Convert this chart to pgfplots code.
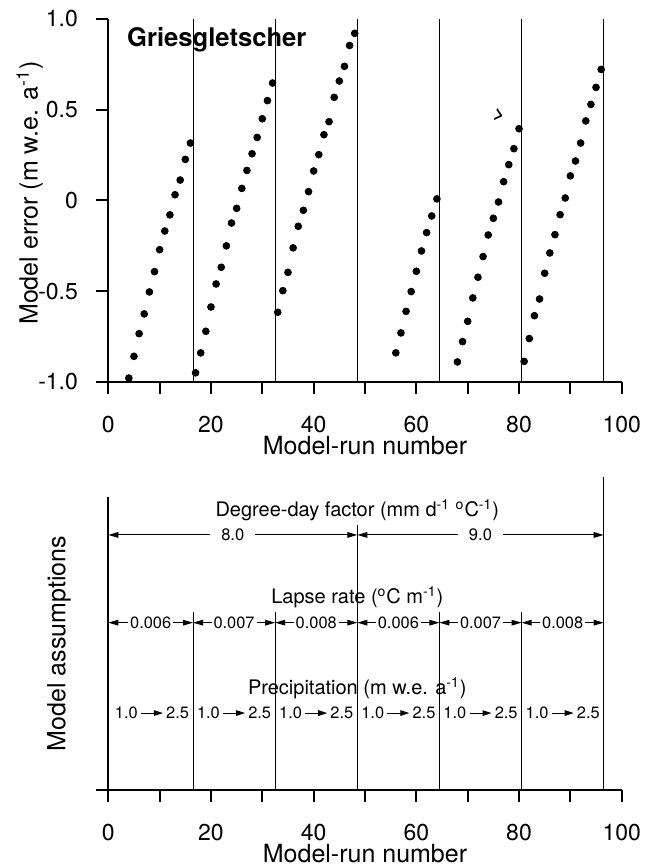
\documentclass[border=0pt]{standalone}
\usepackage{fontspec}
\setmainfont{TeX Gyre Heros}
\usepackage{pgfplots}
\pgfplotsset{compat=1.18}
\usetikzlibrary{arrows.meta}

\newcommand{\parrow}{\raisebox{0.32ex}{\tikz\draw[line width=0.5pt,-{Triangle[length=4.5pt,width=2.8pt]}] (0,0)--(11pt,0);}}

\pgfplotsset{
  common/.style={
    scale only axis, width=256.7pt, xmin=0, xmax=100,
    axis x line*=bottom,
    xtick={0,20,...,100}, minor xtick={10,30,...,90},
    tick align=outside, major tick length=6pt, minor tick length=6pt,
    tick style={line width=1pt, black},
    axis line style={line width=1pt},
    ticklabel style={font=\fontsize{11.5}{13}\selectfont},
    xticklabel style={yshift=-7.5pt},
    yticklabel style={anchor=east, inner sep=0pt, xshift=-9pt},
    /pgf/number format/assume math mode=true,
    label style={font=\fontsize{12.5}{14}\selectfont},
    xlabel={Model-run number},
    xlabel style={at={(axis description cs:0.5,0)}, anchor=center, yshift=-32pt},
    clip=false,
  },
  vline/.style={black, line width=0.5pt, no marks},
  dots/.style={only marks, mark=*, mark size=1.7pt, black},
}
\tikzset{
  dim/.style={line width=0.5pt, {Triangle[length=5pt,width=2.8pt]}-{Triangle[length=5pt,width=2.8pt]}},
  wlab/.style={midway, fill=white, inner xsep=5.5pt, inner ysep=1pt, font=\fontsize{8.3}{9}\selectfont},
  llab/.style={midway, fill=white, inner xsep=1pt, inner ysep=1pt, font=\fontsize{8.2}{9}\selectfont},
  plab/.style={font=\fontsize{8.2}{9}\selectfont, inner sep=0pt},
  ttl/.style={font=\fontsize{10}{12}\selectfont},
}

\begin{document}
\begin{tikzpicture}
\useasboundingbox (0,0) rectangle (327.5pt,-433.5pt);

% ---------------- top panel ----------------
\begin{axis}[common,
  at={(54.15pt,-190.85pt)}, anchor=south west,
  height=181.35pt, ymin=-1, ymax=1,
  axis y line*=left,
  ytick={-1,-0.5,0,0.5,1}, yticklabels={-1.0,-0.5,0,0.5,1.0},
  ylabel={Model error (m w.e. a\textsuperscript{-1})},
  ylabel style={at={(axis description cs:-0.153,0.52)}, anchor=center},
]
\draw[line width=1pt] (axis cs:-2.3,-1) -- (axis cs:0,-1);
\addplot[vline] coordinates {(16.5,-1) (16.5,1)};
\addplot[vline] coordinates {(32.5,-1) (32.5,1)};
\addplot[vline] coordinates {(48.5,-1) (48.5,1)};
\addplot[vline] coordinates {(64.5,-1) (64.5,1)};
\addplot[vline] coordinates {(80.5,-1) (80.5,1)};
\addplot[vline] coordinates {(96.5,-1) (96.5,1)};

\addplot[dots] coordinates {
(4,-0.98) (5,-0.86) (6,-0.735) (7,-0.626) (8,-0.505) (9,-0.393) (10,-0.272)
(11,-0.169) (12,-0.080) (13,0.031) (14,0.112) (15,0.226) (16,0.316)};
\addplot[dots] coordinates {
(17,-0.951) (18,-0.841) (19,-0.722) (20,-0.588) (21,-0.461) (22,-0.369) (23,-0.251)
(24,-0.125) (25,-0.044) (26,0.066) (27,0.165) (28,0.257) (29,0.347) (30,0.450)
(31,0.550) (32,0.647)};
\addplot[dots] coordinates {
(33,-0.617) (34,-0.498) (35,-0.397) (36,-0.262) (37,-0.143) (38,-0.055) (39,0.048)
(40,0.162) (41,0.252) (42,0.362) (43,0.434) (44,0.568) (45,0.658) (46,0.739)
(47,0.854) (48,0.921)};
\addplot[dots] coordinates {
(56,-0.841) (57,-0.731) (58,-0.612) (59,-0.503) (60,-0.391) (61,-0.279) (62,-0.178)
(63,-0.086) (64,0.008)};
\addplot[dots] coordinates {
(68,-0.891) (69,-0.779) (70,-0.667) (71,-0.538) (72,-0.424) (73,-0.310) (74,-0.191)
(75,-0.099) (76,-0.009) (77,0.103) (78,0.197) (79,0.285) (80,0.395)};
\addplot[dots] coordinates {
(81,-0.888) (82,-0.762) (83,-0.636) (84,-0.544) (85,-0.402) (86,-0.290) (87,-0.189)
(88,-0.079) (89,0.013) (90,0.135) (91,0.217) (92,0.316) (93,0.438) (94,0.529)
(95,0.623) (96,0.722)};

\node[anchor=west, font=\fontsize{12.8}{14}\selectfont\bfseries] at (axis cs:2.3,0.886) {Griesgletscher};
\node[rotate=-15, font=\fontsize{9}{10}\selectfont\bfseries] at (axis cs:76.1,0.467) {>};
\end{axis}

% ---------------- bottom panel ----------------
\begin{axis}[common,
  at={(54.15pt,-395pt)}, anchor=south west,
  height=146.5pt, ymin=0, ymax=9.35,
  axis y line*=left, ytick=\empty,
  ylabel={Model assumptions},
  ylabel style={at={(axis description cs:-0.096,0.5)}, anchor=center},
]
\draw[line width=1pt] (axis cs:-2.3,0) -- (axis cs:0,0);
\addplot[vline] coordinates {(16.5,0) (16.5,5.69)};
\addplot[vline] coordinates {(32.5,0) (32.5,5.69)};
\addplot[vline] coordinates {(48.5,0) (48.5,8.46)};
\addplot[vline] coordinates {(64.5,0) (64.5,5.69)};
\addplot[vline] coordinates {(80.5,0) (80.5,5.69)};
\addplot[vline] coordinates {(96.5,0) (96.5,10)};

\draw[dim] (axis cs:0,8.14) -- (axis cs:48.5,8.14) node[wlab] {8.0};
\draw[dim] (axis cs:48.5,8.14) -- (axis cs:96.5,8.14) node[wlab] {9.0};

\draw[dim] (axis cs:0,5.34) -- (axis cs:16.5,5.34) node[llab] {0.006};
\draw[dim] (axis cs:16.5,5.34) -- (axis cs:32.5,5.34) node[llab] {0.007};
\draw[dim] (axis cs:32.5,5.34) -- (axis cs:48.5,5.34) node[llab] {0.008};
\draw[dim] (axis cs:48.5,5.34) -- (axis cs:64.5,5.34) node[llab] {0.006};
\draw[dim] (axis cs:64.5,5.34) -- (axis cs:80.5,5.34) node[llab] {0.007};
\draw[dim] (axis cs:80.5,5.34) -- (axis cs:96.5,5.34) node[llab] {0.008};

\node[ttl] at (axis cs:48.5,8.94) {Degree-day factor (mm d\textsuperscript{-1} \textsuperscript{o}C\textsuperscript{-1})};
\node[ttl] at (axis cs:48.5,6.16) {Lapse rate (\textsuperscript{o}C m\textsuperscript{-1})};
\node[ttl] at (axis cs:48.5,3.26) {Precipitation (m w.e. a\textsuperscript{-1})};

\node[plab] at (axis cs:8.5,2.46) {1.0\,\parrow\,2.5};
\node[plab] at (axis cs:24.5,2.46) {1.0\,\parrow\,2.5};
\node[plab] at (axis cs:40.5,2.46) {1.0\,\parrow\,2.5};
\node[plab] at (axis cs:56.5,2.46) {1.0\,\parrow\,2.5};
\node[plab] at (axis cs:72.5,2.46) {1.0\,\parrow\,2.5};
\node[plab] at (axis cs:88.5,2.46) {1.0\,\parrow\,2.5};
\end{axis}
\end{tikzpicture}
\end{document}
